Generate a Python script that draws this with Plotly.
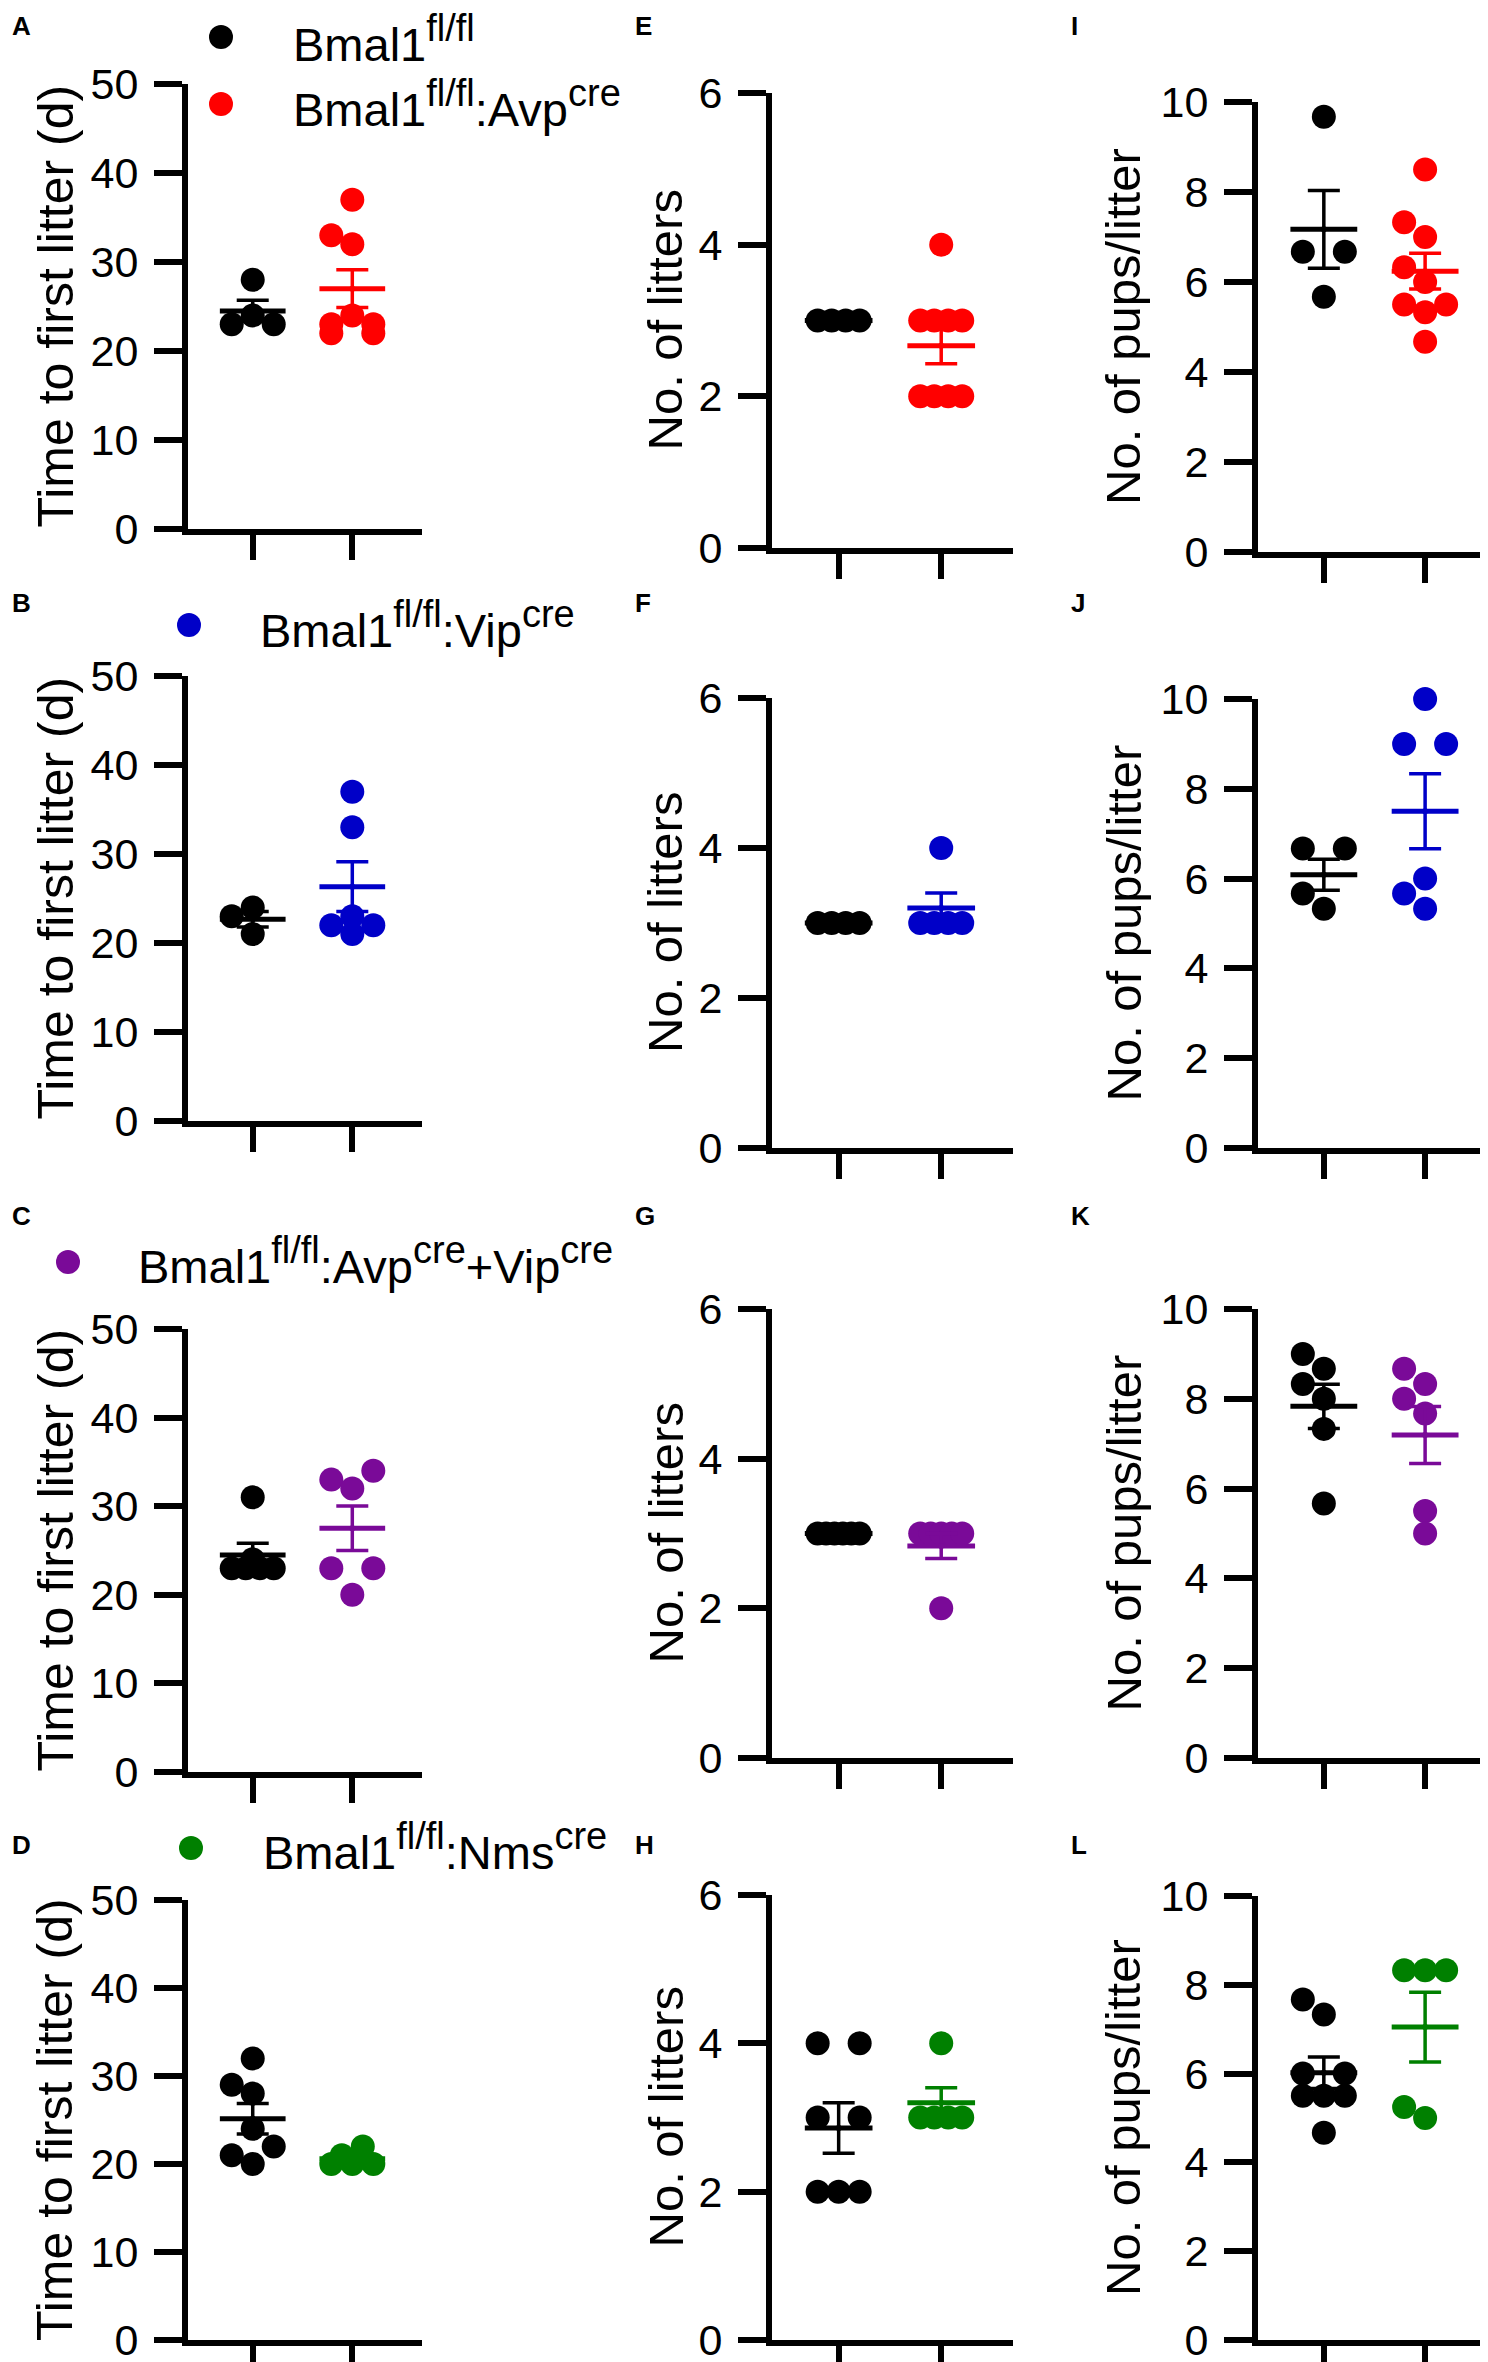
import plotly.graph_objects as go
import numpy as np
import math

# ---- data ----
# row 1: Bmal1 fl/fl vs Bmal1 fl/fl:Avp-cre
time_ctrl_avp = [28, 24, 23, 23]
time_avp = [37, 33, 32, 24, 23, 23, 22, 22]
litters_ctrl_avp = [3, 3, 3, 3]
litters_avp = [4, 3, 3, 3, 3, 2, 2, 2, 2]
pups_ctrl_avp = [9.67, 6.67, 6.67, 5.67]
pups_avp = [8.5, 7.33, 7.0, 6.33, 6.0, 5.5, 5.5, 5.33, 4.67]

# row 2: Vip-cre
time_ctrl_vip = [24, 23, 21]
time_vip = [37, 33, 23, 22, 22, 21]
litters_ctrl_vip = [3, 3, 3, 3]
litters_vip = [4, 3, 3, 3, 3]
pups_ctrl_vip = [6.67, 6.67, 5.67, 5.33]
pups_vip = [10, 9, 9, 6, 5.67, 5.33]

# row 3: Avp-cre + Vip-cre
time_ctrl_av = [31, 24, 23, 23, 23, 23]
time_av = [34, 33, 32, 23, 23, 20]
litters_ctrl_av = [3, 3, 3, 3, 3, 3]
litters_av = [3, 3, 3, 3, 3, 2]
pups_ctrl_av = [9, 8.67, 8.33, 8, 7.33, 5.67]
pups_av = [8.67, 8.33, 8, 7.67, 5.5, 5]

# row 4: Nms-cre
time_ctrl_nms = [32, 29, 28, 24, 22, 21, 20]
time_nms = [22, 21, 20, 20, 20]
litters_ctrl_nms = [4, 4, 3, 3, 2, 2, 2]
litters_nms = [4, 3, 3, 3, 3]
pups_ctrl_nms = [7.67, 7.33, 6, 6, 5.5, 5.5, 5.5, 4.67]
pups_nms = [8.33, 8.33, 8.33, 5.25, 5]

y_titles = ["Time to first litter (d)", "No. of litters", "No. of pups/litter"]
y_max = [50, 6, 10]
y_step = [10, 2, 2]
panel_letters = [["A", "E", "I"], ["B", "F", "J"], ["C", "G", "K"], ["D", "H", "L"]]

BLACK = "#000000"
row_colors = ["#FF0000", "#0000C8", "#7A0A98", "#008000"]
rows = [
    [(time_ctrl_avp, time_avp), (litters_ctrl_avp, litters_avp), (pups_ctrl_avp, pups_avp)],
    [(time_ctrl_vip, time_vip), (litters_ctrl_vip, litters_vip), (pups_ctrl_vip, pups_vip)],
    [(time_ctrl_av, time_av), (litters_ctrl_av, litters_av), (pups_ctrl_av, pups_av)],
    [(time_ctrl_nms, time_nms), (litters_ctrl_nms, litters_nms), (pups_ctrl_nms, pups_nms)],
]

SUP = '<sup><span style="font-size:38px">%s</span></sup>'
legend_rows = [
    [(BLACK, "Bmal1" + SUP % "fl/fl", 213, 29, 283, 55),
     (row_colors[0], "Bmal1" + SUP % "fl/fl" + ":Avp" + SUP % "cre", 213, 96, 283, 120)],
    [(row_colors[1], "Bmal1" + SUP % "fl/fl" + ":Vip" + SUP % "cre", 181, 617, 250, 641)],
    [(row_colors[2], "Bmal1" + SUP % "fl/fl" + ":Avp" + SUP % "cre" + "+Vip" + SUP % "cre", 60, 1254, 128, 1277)],
    [(row_colors[3], "Bmal1" + SUP % "fl/fl" + ":Nms" + SUP % "cre", 183, 1840, 253, 1863)],
]

# ---- layout, in pixels ----
W, H = 1488, 2362
FONT = "Liberation Sans, Arial, sans-serif"
col_px = [(180, 414), (764, 1005), (1250, 1488)]
row_px = [
    [(76, 521), (668, 1113), (1321, 1764), (1892, 2332)],
    [(85, 540), (690, 1140), (1301, 1750), (1887, 2332)],
    [(94, 544), (691, 1140), (1301, 1750), (1888, 2332)],
]
title_x = [47, 657, 1115]
title_size = [50, 49, 49]
letter_x = [2, 625, 1061]
letter_y = [18, 595, 1208, 1837]
X_RANGE = [-0.65, 1.70]
DOT = 24


def px_x(x):
    return x / W


def px_y(y):
    return 1 - y / H


def swarm(vals, xpx, ypx, half=21):
    """spread points horizontally so they don't pile up (Prism-like)"""
    offs = [None] * len(vals)
    groups = {}
    for i, v in enumerate(vals):
        groups.setdefault(round(v, 2), []).append(i)
    placed = []
    for v, idx in groups.items():
        if len(idx) > 1:
            for k, i in enumerate(idx):
                o = -half + 2 * half * k / (len(idx) - 1)
                offs[i] = o
                placed.append((o, v * ypx))
    singles = sorted([idx[0] for idx in groups.values() if len(idx) == 1], key=lambda i: vals[i])
    cands = [0, -half, half, -half / 2, half / 2]
    for i in singles:
        y = vals[i] * ypx

        def mind(o):
            return min([math.hypot(o - px, y - py) for px, py in placed] or [1e9])
        pick = next((c for c in cands if mind(c) >= 0.85 * DOT), None)
        if pick is None:
            pick = max(cands, key=mind)
        offs[i] = pick
        placed.append((pick, y))
    return [o / xpx for o in offs]


fig = go.Figure()
annotations = []
shapes = []
layout_axes = {}

k = 0
for r in range(4):
    for c in range(3):
        k += 1
        xa = "x" if k == 1 else "x%d" % k
        ya = "y" if k == 1 else "y%d" % k
        x0, x1 = col_px[c]
        yt, yb = row_px[c][r]
        xpx = (x1 - x0) / (X_RANGE[1] - X_RANGE[0])
        ypx = (yb - yt) / y_max[c]
        groups = rows[r][c]
        colors = [BLACK, row_colors[r]]

        for g, vals in enumerate(groups):
            offs = swarm(vals, xpx, ypx)
            fig.add_trace(go.Scatter(
                x=[g + o for o in offs], y=vals, mode="markers",
                marker=dict(size=DOT, color=colors[g], line=dict(width=0)),
                xaxis=xa, yaxis=ya, showlegend=False, cliponaxis=False))
        for g, vals in enumerate(groups):
            m = float(np.mean(vals))
            s = float(np.std(vals, ddof=1) / np.sqrt(len(vals)))
            fig.add_trace(go.Scatter(
                x=[g - 0.33, g + 0.33], y=[m, m], mode="lines",
                line=dict(color=colors[g], width=5),
                xaxis=xa, yaxis=ya, showlegend=False, cliponaxis=False))
            fig.add_trace(go.Scatter(
                x=[g], y=[m], mode="markers", marker=dict(size=0, color=colors[g]),
                error_y=dict(type="data", array=[s], color=colors[g], thickness=3.5, width=16),
                xaxis=xa, yaxis=ya, showlegend=False, cliponaxis=False))

        layout_axes["xaxis" if k == 1 else "xaxis%d" % k] = dict(
            domain=[px_x(x0), px_x(x1)], range=X_RANGE, anchor=ya, automargin=False,
            showline=True, linecolor="black", linewidth=6,
            ticks="outside", tickvals=[0, 1], ticklen=25, tickwidth=5.5, tickcolor="black",
            showticklabels=False, showgrid=False, zeroline=False)
        layout_axes["yaxis" if k == 1 else "yaxis%d" % k] = dict(
            domain=[px_y(yb), px_y(yt)], range=[0, y_max[c]], anchor=xa, automargin=False,
            showline=True, linecolor="black", linewidth=6,
            ticks="outside", tickvals=list(range(0, y_max[c] + 1, y_step[c])),
            ticklen=28, tickwidth=5.5, tickcolor="black", ticklabelstandoff=7,
            tickfont=dict(size=43, color="black", family=FONT),
            showgrid=False, zeroline=False)

        annotations.append(dict(
            text=y_titles[c], textangle=-90, xref="paper", yref="paper",
            x=px_x(title_x[c]), y=px_y((yt + yb) / 2), xanchor="center", yanchor="middle",
            showarrow=False, font=dict(size=title_size[c], color="black", family=FONT)))
        annotations.append(dict(
            text="<b>%s</b>" % panel_letters[r][c], xref="paper", yref="paper",
            x=px_x(letter_x[c]), y=px_y(letter_y[r]), xanchor="left", yanchor="middle",
            showarrow=False, font=dict(size=26, color="black", family=FONT)))

# legends drawn by hand
for items in legend_rows:
    for color, label, cx, cy, tx, base in items:
        shapes.append(dict(type="circle", xref="paper", yref="paper",
                           x0=px_x(cx - DOT / 2), x1=px_x(cx + DOT / 2),
                           y0=px_y(cy + DOT / 2), y1=px_y(cy - DOT / 2),
                           fillcolor=color, line=dict(width=0)))
        annotations.append(dict(
            text=label, xref="paper", yref="paper",
            x=px_x(tx), y=px_y(base + 10), xanchor="left", yanchor="bottom",
            showarrow=False, font=dict(size=47, color="black", family=FONT)))

fig.update_layout(
    template="none",
    width=W, height=H, autosize=False,
    margin=dict(l=0, r=0, t=0, b=0, pad=0),
    paper_bgcolor="white", plot_bgcolor="white",
    font=dict(family=FONT, color="black"),
    showlegend=False,
    annotations=annotations, shapes=shapes,
    **layout_axes)

fig.write_html("out.html")
